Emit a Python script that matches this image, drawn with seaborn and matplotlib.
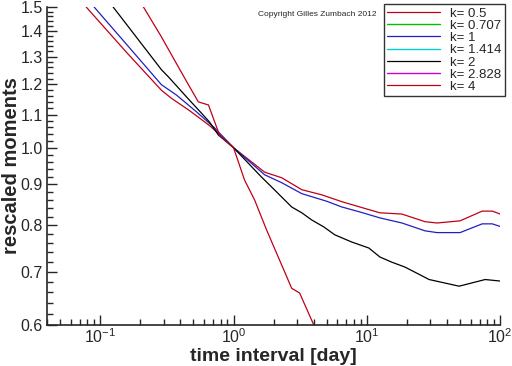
import matplotlib
matplotlib.use("Agg")
import matplotlib.pyplot as plt
import matplotlib.ticker as mticker
import numpy as np
import pandas as pd
import seaborn as sns

# ----------------------------------------------------------------
# data (log-log, time interval in days)
# ----------------------------------------------------------------
K_LABELS = ["k= 0.5", "k= 0.707", "k= 1", "k= 1.414", "k= 2", "k= 2.828", "k= 4"]
K_COLORS = ["#c00018", "#00c000", "#2020c0", "#00d0d0", "#000000", "#d000d0", "#c00018"]

x_k05 = [0.0785, 0.157, 0.288, 0.342, 0.467, 0.660, 0.841, 1.0, 1.71, 2.30, 3.25, 4.59,
         6.49, 8.86, 12.5, 18.3, 27.3, 33.6, 50.0, 73.2, 87.1, 100.0]
y_k05 = [1.50, 1.317, 1.180, 1.153, 1.113, 1.066, 1.028, 1.0, 0.932, 0.917, 0.886, 0.873,
         0.856, 0.843, 0.829, 0.826, 0.808, 0.805, 0.810, 0.833, 0.833, 0.826]

x_k1 = [0.090, 0.160, 0.288, 0.373, 0.527, 0.720, 1.0, 1.71, 2.30, 3.25, 5.0, 6.49, 8.86,
        12.5, 18.3, 27.3, 33.6, 50.0, 73.2, 87.1, 100.0]
y_k1 = [1.50, 1.343, 1.199, 1.164, 1.109, 1.059, 1.0, 0.925, 0.904, 0.876, 0.857, 0.843, 0.831,
        0.817, 0.805, 0.787, 0.783, 0.783, 0.803, 0.803, 0.797]

x_k2 = [0.125, 0.190, 0.288, 0.330, 0.443, 0.574, 0.660, 0.771, 1.0, 1.62, 1.93, 2.73, 3.25,
        3.86, 4.75, 5.75, 7.71, 10.35, 12.5, 15.4, 19.3, 29.3, 49.2, 77.1, 100.0]
y_k2 = [1.50, 1.370, 1.252, 1.223, 1.158, 1.105, 1.077, 1.037, 1.0, 0.919, 0.893, 0.843, 0.829,
        0.812, 0.796, 0.778, 0.762, 0.749, 0.730, 0.719, 0.709, 0.684, 0.671, 0.684, 0.681]

x_k4 = [0.211, 0.288, 0.360, 0.459, 0.545, 0.649, 0.785, 1.0, 1.21, 1.44, 1.77, 2.73, 3.13, 4.0]
y_k4 = [1.50, 1.376, 1.288, 1.199, 1.141, 1.131, 1.037, 1.0, 0.911, 0.86, 0.789, 0.667, 0.658, 0.60]

series = {"k= 0.5": (x_k05, y_k05), "k= 1": (x_k1, y_k1),
          "k= 2": (x_k2, y_k2), "k= 4": (x_k4, y_k4)}

Y_TICKS = [0.6, 0.7, 0.8, 0.9, 1.0, 1.1, 1.2, 1.3, 1.4, 1.5]

# ----------------------------------------------------------------
# style
# ----------------------------------------------------------------
sns.set_theme(style="ticks")
plt.rcParams["font.family"] = ["Liberation Sans", "DejaVu Sans"]
plt.rcParams.update({
    "xtick.direction": "in",
    "ytick.direction": "in",
    "axes.linewidth": 1.2,
})

fig = plt.figure(figsize=(5.12, 3.66), dpi=100)
ax = fig.add_axes([0.092, 0.112, 0.885, 0.869])

for lab, col in zip(K_LABELS, K_COLORS):
    if lab in series:
        xs, ys = series[lab]
        df = pd.DataFrame({"x": xs, "y": ys})
        sns.lineplot(data=df, x="x", y="y", ax=ax, color=col, lw=0.9,
                     label=lab, sort=False, estimator=None)
    else:
        ax.plot([], [], color=col, lw=1.0, label=lab)

ax.set_xscale("log")
ax.set_yscale("log")
ax.set_xlim(0.04, 100)
ax.set_ylim(0.6, 1.5)

ax.yaxis.set_major_locator(mticker.FixedLocator(Y_TICKS))
ax.yaxis.set_major_formatter(mticker.FixedFormatter([f"{v:.1f}" for v in Y_TICKS]))
ax.yaxis.set_minor_locator(mticker.FixedLocator(np.arange(0.62, 1.5, 0.02)))
ax.yaxis.set_minor_formatter(mticker.NullFormatter())
ax.tick_params(axis="both", which="major", length=7, width=1.0, labelsize=11.5, pad=3)
ax.tick_params(axis="x", which="major", pad=2)
ax.tick_params(axis="both", which="minor", length=4, width=1.0)

sns.despine(ax=ax)
ax.set_xlabel("time interval [day]", fontsize=14, fontweight="bold")
ax.set_ylabel("rescaled moments", fontsize=14.5, fontweight="bold")
ax.xaxis.set_label_coords(0.5, -0.073)
ax.yaxis.set_label_coords(-0.057, 0.5)

ax.text(0.466, 0.975, "Copyright Gilles Zumbach 2012", transform=ax.transAxes,
        fontsize=6, ha="left", va="center")

leg = ax.legend(loc="upper right", bbox_to_anchor=(0.986, 0.989),
                bbox_transform=fig.transFigure, borderaxespad=0, frameon=True,
                fancybox=False, edgecolor="black", fontsize=9.5, handlelength=4.0,
                labelspacing=0.0, borderpad=0.25, handletextpad=0.8)
leg.get_frame().set_linewidth(1.0)

fig.savefig("out.png", dpi=100, facecolor="white")
